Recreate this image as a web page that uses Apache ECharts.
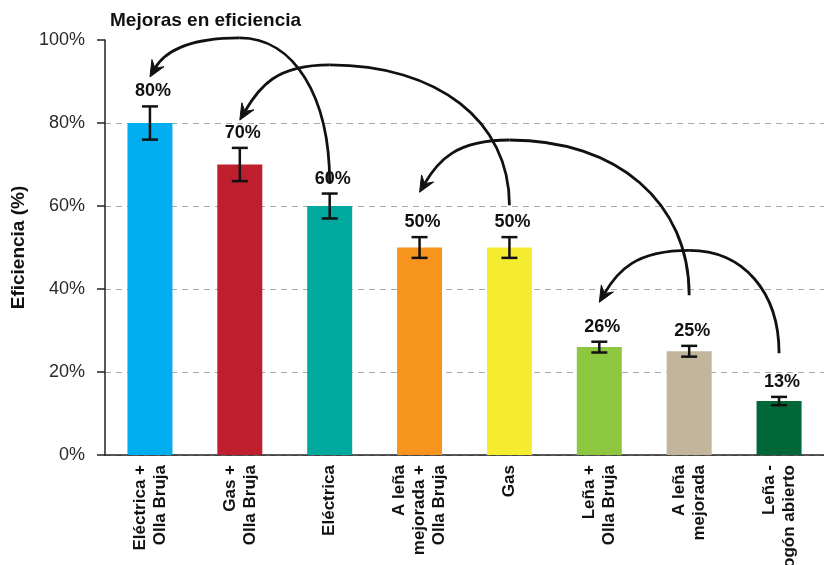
<!DOCTYPE html>
<html>
<head>
<meta charset="utf-8">
<script src="https://cdn.jsdelivr.net/npm/echarts@6/dist/echarts.min.js"></script>
<style>
  html, body { margin: 0; padding: 0; background: #ffffff; }
  #chart { width: 824px; height: 565px; }
</style>
</head>
<body>
<div id="chart"></div>
<script>
// Cooking methods, ordered from most to least efficient
const categories = [
  'Eléctrica +\nOlla Bruja',
  'Gas +\nOlla Bruja',
  'Eléctrica',
  'A leña\nmejorada +\nOlla Bruja',
  'Gas',
  'Leña +\nOlla Bruja',
  'A leña\nmejorada',
  'Leña -\nFogón abierto'
];
// Efficiency (%) and its uncertainty (± %)
const efficiency = [80, 70, 60, 50, 50, 26, 25, 13];
const errorMargin = [4, 4, 3, 2.5, 2.5, 1.3, 1.3, 1];
const barColors = ['#00AEEF', '#BE1E2D', '#00A99D', '#F7941D', '#F5EB2F', '#8DC63F', '#C2B59B', '#006838'];

// "Mejoras" arrows: each goes from a method to the improved version of it.
// Points are [category position, efficiency %]: tail, highest point of the arc, head.
const arrowTails  = [[2.04, 65.5], [4.00, 60.2], [6.06, 38.5], [7.01, 24.5]];
const arrowCrests = [[0.72, 100.5], [2.30, 94.0], [4.28, 75.9], [6.02, 49.3]];
const arrowHeads  = [[0.02, 91.1], [1.08, 80.7], [3.17, 63.3], [5.03, 36.8]];

const FONT = '"Liberation Sans", Arial, sans-serif';
const INK = '#111111';

function renderErrorBar(params, api) {
  const i = api.value(0), v = api.value(1), e = api.value(2);
  const hi = api.coord([i, v + e]);
  const lo = api.coord([i, v - e]);
  const cap = 8;
  const stroke = { stroke: INK, lineWidth: 2.5 };
  return {
    type: 'group',
    children: [
      { type: 'line', shape: { x1: hi[0], y1: hi[1], x2: lo[0], y2: lo[1] }, style: stroke },
      { type: 'line', shape: { x1: hi[0] - cap, y1: hi[1], x2: hi[0] + cap, y2: hi[1] }, style: stroke },
      { type: 'line', shape: { x1: lo[0] - cap, y1: lo[1], x2: lo[0] + cap, y2: lo[1] }, style: stroke },
      {
        type: 'text',
        style: {
          text: v + '%', x: hi[0] + 3, y: hi[1] - 6,
          align: 'center', verticalAlign: 'bottom',
          font: 'bold 18px ' + FONT, fill: INK
        }
      }
    ]
  };
}

function renderArrow(params, api) {
  const t = api.coord([api.value(0), api.value(1)]);
  const c = api.coord([api.value(2), api.value(3)]);
  const h = api.coord([api.value(4), api.value(5)]);
  const k = 0.6;
  const drop = h[1] - c[1];
  const cp2 = [h[0] + 0.35 * drop, h[1] - k * drop];
  let dx = h[0] - cp2[0], dy = h[1] - cp2[1];
  const len = Math.hypot(dx, dy); dx /= len; dy /= len;
  const nx = -dy, ny = dx;
  const L = 16, W = 7, notch = 10;
  const base = [h[0] - dx * L, h[1] - dy * L];
  const end = [h[0] - dx * notch, h[1] - dy * notch];
  const line = { stroke: INK, lineWidth: 2.8, fill: null };
  return {
    type: 'group',
    children: [
      {
        type: 'bezierCurve',
        shape: {
          x1: t[0], y1: t[1], x2: c[0], y2: c[1],
          cpx1: t[0], cpy1: t[1] - k * (t[1] - c[1]),
          cpx2: c[0] + k * (t[0] - c[0]), cpy2: c[1]
        },
        style: line
      },
      {
        type: 'bezierCurve',
        shape: {
          x1: c[0], y1: c[1], x2: end[0], y2: end[1],
          cpx1: c[0] - k * (c[0] - h[0]), cpy1: c[1],
          cpx2: cp2[0], cpy2: cp2[1]
        },
        style: line
      },
      {
        type: 'polygon',
        shape: {
          points: [
            h,
            [base[0] + nx * W, base[1] + ny * W],
            end,
            [base[0] - nx * W, base[1] - ny * W]
          ]
        },
        style: { fill: INK, stroke: INK, lineWidth: 1 }
      }
    ]
  };
}

const chart = echarts.init(document.getElementById('chart'), null, { renderer: 'canvas' });
chart.setOption({
  animation: false,
  backgroundColor: '#ffffff',
  title: {
    text: 'Mejoras en eficiencia',
    left: 105, top: 6,
    textStyle: { fontFamily: FONT, fontSize: 19, fontWeight: 'bold', color: INK }
  },
  grid: {
    left: 105, right: 0, top: 40, bottom: 110,
    containLabel: false, outerBoundsMode: 'none'
  },
  xAxis: {
    type: 'category',
    data: categories,
    axisLine: { lineStyle: { color: '#222', width: 1.5 } },
    axisTick: { show: false },
    axisLabel: {
      interval: 0, rotate: 90, margin: 10,
      fontFamily: FONT, fontSize: 17, fontWeight: 'bold', lineHeight: 20, color: INK
    }
  },
  yAxis: {
    type: 'value',
    min: 0, max: 100, interval: 20,
    name: 'Eficiencia (%)',
    nameLocation: 'middle',
    nameGap: 76,
    nameTextStyle: { fontFamily: FONT, fontSize: 19, fontWeight: 'bold', color: INK },
    axisLine: { show: true, lineStyle: { color: '#222', width: 1.5 } },
    axisTick: { show: true, length: 8, lineStyle: { color: '#222', width: 1.5 } },
    axisLabel: {
      formatter: '{value}%', margin: 20,
      fontFamily: FONT, fontSize: 18, color: '#2a2a2a'
    },
    splitLine: {
      show: true, showMaxLine: false,
      lineStyle: { color: '#aaaaaa', width: 1.2, type: [6, 5] }
    }
  },
  series: [
    {
      type: 'bar',
      barWidth: 45,
      data: efficiency.map((v, i) => ({ value: v, itemStyle: { color: barColors[i] } })),
      z: 2
    },
    {
      type: 'custom',
      renderItem: renderErrorBar,
      data: efficiency.map((v, i) => [i, v, errorMargin[i]]),
      encode: { x: 0, y: 1 },
      z: 3
    },
    {
      type: 'custom',
      renderItem: renderArrow,
      clip: false,
      data: arrowTails.map((tl, i) => [tl[0], tl[1], arrowCrests[i][0], arrowCrests[i][1], arrowHeads[i][0], arrowHeads[i][1]]),
      encode: { x: 0, y: 1 },
      z: 4
    }
  ]
});
</script>
</body>
</html>
